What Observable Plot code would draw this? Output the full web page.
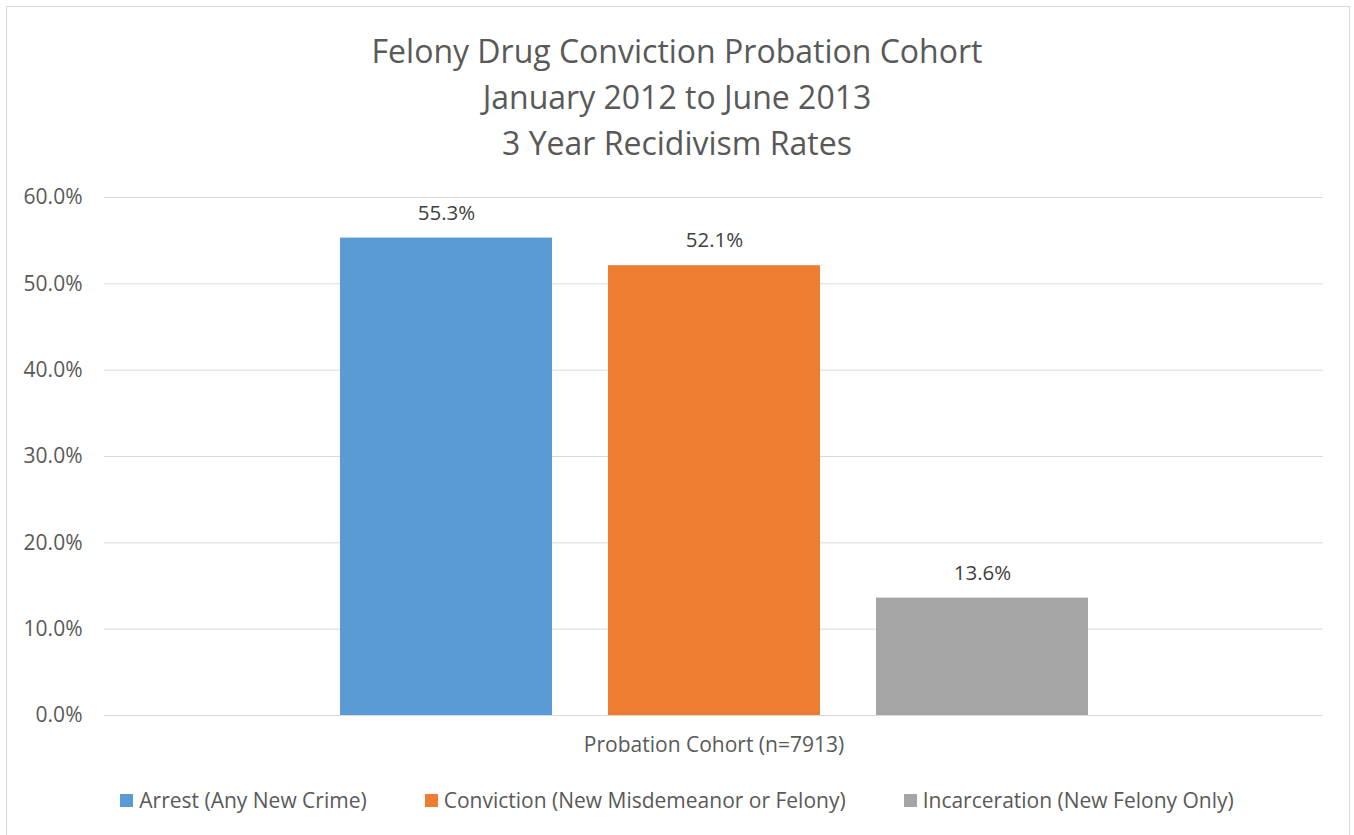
<!DOCTYPE html>
<html>
<head>
<meta charset="utf-8">
<script src="https://cdn.jsdelivr.net/npm/d3@7"></script>
<script src="https://cdn.jsdelivr.net/npm/@observablehq/plot@0.6"></script>
<style>
  html, body { margin: 0; padding: 0; background: #fff; }
  #frame {
    position: absolute; left: 6px; top: 6px; width: 1344px; height: 840px;
    border: 1px solid #d9d9d9; box-sizing: border-box; background: #fff;
  }
  #wrap { position: absolute; left: 0; top: 0; width: 1354px; height: 835px; font-family: "Open Sans", sans-serif; color: #595959; }
  #title { position: absolute; left: 0; top: 28px; width: 1354px; text-align: center; font-size: 32px; line-height: 46px; color: #595959; }
  #chart { position: absolute; left: 0; top: 170px; }
  #legend { position: absolute; left: 0; top: 786px; width: 1354px; display: flex; justify-content: center; gap: 58px; font-size: 21px; line-height: 28px; color: #595959; }
  .item { display: flex; align-items: center; }
  .sw { width: 13px; height: 13px; margin-right: 6px; }
</style>
</head>
<body>
<div id="wrap">
  <div id="frame"></div>
  <div id="title"></div>
  <div id="chart"></div>
  <div id="legend"></div>
</div>
<script>
const titleLines = ["Felony Drug Conviction Probation Cohort", "January 2012 to June 2013", "3 Year Recidivism Rates"];
const category = "Probation Cohort (n=7913)";
const series = ["Arrest (Any New Crime)", "Conviction (New Misdemeanor or Felony)", "Incarceration (New Felony Only)"];
const values = [55.3, 52.1, 13.6];
const colors = ["#5B9BD5", "#ED7D31", "#A5A5A5"];
const yTicks = [0, 10, 20, 30, 40, 50, 60];

document.getElementById("title").innerHTML = titleLines.map(t => `<div>${t}</div>`).join("");

const data = series.map((s, i) => ({category, series: s, value: values[i]}));
const fmt = d => d.toFixed(1) + "%";

const chart = Plot.plot({
  width: 1354,
  height: 590,
  marginLeft: 104,
  marginRight: 31,
  marginTop: 27,
  marginBottom: 45,
  style: {fontFamily: "Open Sans, sans-serif", color: "#595959", background: "transparent"},
  fx: {domain: [category], padding: 0, label: null},
  x: {domain: series, paddingInner: 0.21, paddingOuter: 0.871, axis: null},
  y: {domain: [0, 60], label: null},
  color: {domain: series, range: colors},
  marks: [
    Plot.ruleY(yTicks, {stroke: "#d9d9d9", strokeWidth: 1}),
    Plot.axisY({ticks: yTicks, tickFormat: fmt, tickSize: 0, tickPadding: 22, fontSize: 21, fill: "#595959", label: null}),
    Plot.axisFx({anchor: "bottom", tickSize: 0, tickPadding: 22, fontSize: 21, fill: "#595959", label: null}),
    Plot.barY(data, {fx: "category", x: "series", y: "value", fill: "series"}),
    Plot.text(data, {fx: "category", x: "series", y: "value", text: d => fmt(d.value), dy: -25, fill: "#404040", fontSize: 20.5})
  ]
});
document.getElementById("chart").appendChild(chart);

document.getElementById("legend").innerHTML = series.map((s, i) =>
  `<div class="item"><div class="sw" style="background:${colors[i]}"></div><span>${s}</span></div>`).join("");
</script>
</body>
</html>
